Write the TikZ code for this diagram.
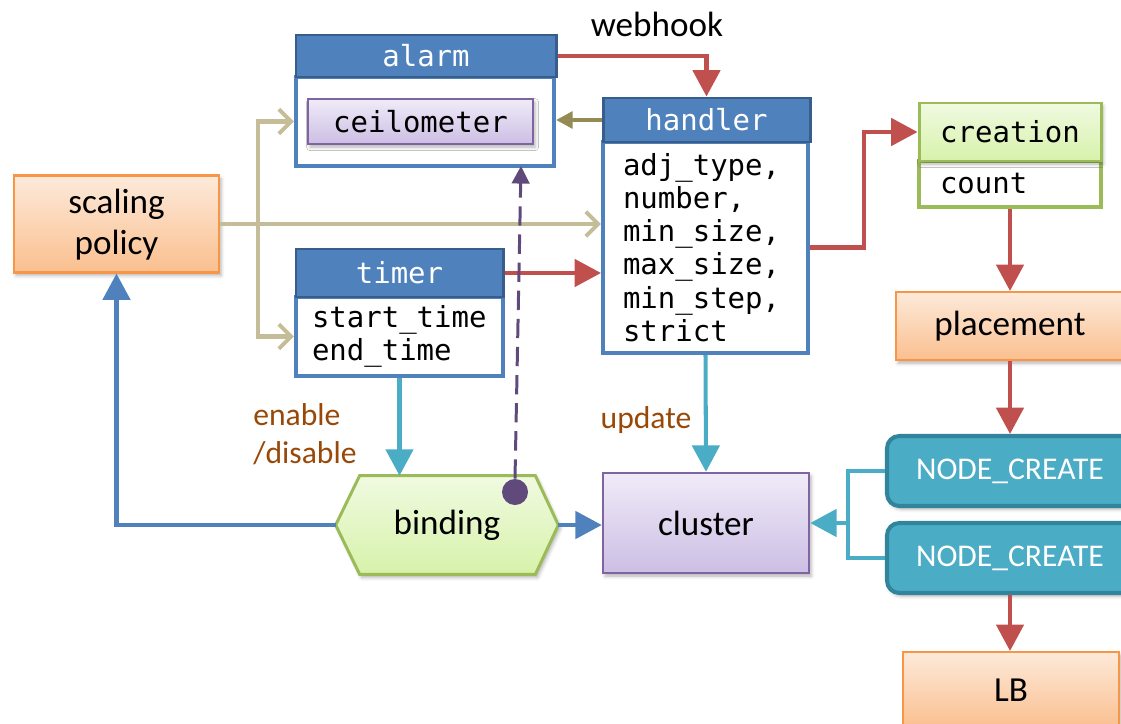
\documentclass[tikz,border=0pt]{standalone}
\usepackage{fontspec}
\setmainfont{Carlito}
\newfontfamily\monof{DejaVu Sans Mono}
\usetikzlibrary{arrows.meta,shadows.blur,calc}
\definecolor{hdrblue}{RGB}{79,129,189}
\definecolor{hdrdark}{RGB}{56,93,138}
\definecolor{redc}{RGB}{192,80,77}
\definecolor{beige}{RGB}{196,189,151}
\definecolor{olive}{RGB}{148,138,84}
\definecolor{tealc}{RGB}{75,172,198}
\definecolor{tealdark}{RGB}{49,132,155}
\definecolor{orangeb}{RGB}{247,150,70}
\definecolor{orangetop}{RGB}{253,234,218}
\definecolor{orangebot}{RGB}{250,191,143}
\definecolor{greenb}{RGB}{155,187,89}
\definecolor{greentop}{RGB}{240,250,225}
\definecolor{greenbot}{RGB}{215,242,170}
\definecolor{purpb}{RGB}{128,100,162}
\definecolor{purptop}{RGB}{240,235,248}
\definecolor{purpbot}{RGB}{204,190,228}
\definecolor{purpdark}{RGB}{96,74,123}
\definecolor{brownt}{RGB}{152,72,7}
\newcommand\pxu{0.02cm}
\tikzset{
  shad/.style={blur shadow={shadow xshift=1.2pt, shadow yshift=-1.8pt, shadow blur radius=2pt, shadow opacity=30}},
  monofont/.style={font=\monof\fontsize{16.5pt}{18.9pt}\selectfont},
  sansbig/.style={font=\fontsize{20pt}{23.3pt}\selectfont},
  hdr/.style={draw=hdrdark, fill=hdrblue, line width=1.7pt, text=white, monofont, inner sep=0pt},
  bodybox/.style={draw=hdrblue, fill=white, line width=2.3pt, monofont, inner sep=0pt, align=left},
  orangebox/.style={draw=orangeb, line width=1.2pt, top color=orangetop, bottom color=orangebot, sansbig, inner sep=0pt, shad},
  greenbox/.style={draw=greenb, line width=1.7pt, top color=greentop, bottom color=greenbot, monofont, inner sep=0pt, shad},
  countbox/.style={draw=greenb, line width=2.3pt, fill=white, monofont, inner sep=0pt, align=left},
  purpbox/.style={draw=purpb, line width=1.4pt, top color=purptop, bottom color=purpbot, sansbig, inner sep=0pt, shad},
  ceilbox/.style={draw=purpb, line width=1.4pt, top color=purptop, bottom color=purpbot, monofont, inner sep=0pt, shad},
  ncbox/.style={draw=tealdark, line width=2.3pt, fill=tealc, rounded corners=7pt, text=white, font=\fontsize{18pt}{21pt}\selectfont, inner sep=0pt, shad},
  greenhex/.style={draw=greenb, line width=1.7pt, top color=greentop, bottom color=greenbot, shad},
  brownlbl/.style={text=brownt, font=\fontsize{18pt}{21.5pt}\selectfont, inner sep=0pt},
  redar/.style={draw=redc, line width=2.3pt, -{Triangle[length=15pt,width=15.5pt]}},
  tealar/.style={draw=tealc, line width=2.3pt, -{Triangle[length=15pt,width=15.5pt]}},
  tealline/.style={draw=tealc, line width=2.3pt},
  bluear/.style={draw=hdrblue, line width=2.3pt, -{Triangle[length=15pt,width=15.5pt]}},
  beigear/.style={draw=beige, line width=2.3pt, -{Straight Barb[length=7pt,width=14pt]}},
  olivear/.style={draw=olive, line width=2.3pt, -{Triangle[length=9.5pt,width=9.5pt]}},
  purpdash/.style={draw=purpdark, line width=1.7pt, dash pattern=on 11pt off 5pt, -{Triangle[length=10pt,width=10pt]}}
}
\begin{document}
\begin{tikzpicture}[x=0.02cm,y=-0.02cm]
\useasboundingbox (0,0) rectangle (1121,723);
\clip (0,0) rectangle (1121,723);

% nodes
\node[orangebox, minimum width=205*\pxu, minimum height=97*\pxu, align=center, font=\fontsize{20pt}{23.5pt}\selectfont] (policy) at (116.5,224) {\rule{0pt}{15pt}scaling\\policy};

\node[bodybox, minimum width=258*\pxu, minimum height=89*\pxu] (alarmB) at (425,121.5) {};
\node[hdr, minimum width=260*\pxu, minimum height=42*\pxu] (alarmH) at (426,56) {alarm};
\node[ceilbox, minimum width=225*\pxu, minimum height=45*\pxu] (ceil) at (420.5,121.5) {ceilometer};

\node[bodybox, minimum width=205*\pxu, minimum height=211*\pxu, text width=165*\pxu] (handlerB) at (705.5,247.5) {adj\_type,\\number,\\min\_size,\\max\_size,\\min\_step,\\strict};
\node[hdr, minimum width=207*\pxu, minimum height=44*\pxu] (handlerH) at (706.5,120) {handler};

\node[bodybox, minimum width=207*\pxu, minimum height=79*\pxu, text width=175*\pxu] (timerB) at (399.5,336.5) {start\_time\\end\_time};
\node[hdr, minimum width=207*\pxu, minimum height=48*\pxu] (timerH) at (399.5,273) {timer};

\node[countbox, minimum width=182*\pxu, minimum height=46*\pxu, text width=140*\pxu] (count) at (1010,184) {count};
\node[greenbox, minimum width=182*\pxu, minimum height=58*\pxu] (creation) at (1010,132) {creation};

\node[orangebox, minimum width=228*\pxu, minimum height=68*\pxu] (placement) at (1010,326) {placement};
\node[ncbox, minimum width=246*\pxu, minimum height=70*\pxu] (nc1) at (1010,471) {NODE\_CREATE};
\node[ncbox, minimum width=246*\pxu, minimum height=70*\pxu] (nc2) at (1010,558) {NODE\_CREATE};
\node[orangebox, minimum width=216*\pxu, minimum height=76*\pxu] (lb) at (1011,690) {LB};

\node[purpbox, minimum width=206*\pxu, minimum height=100*\pxu] (cluster) at (706,523) {cluster};

\node[minimum width=222*\pxu, minimum height=98*\pxu, inner sep=0pt] (binding) at (447,525) {};
\path[greenhex] (binding.west) -- ($(binding.north west)+(24,0)$) -- ($(binding.north east)+(-23,0)$) -- (binding.east) -- ($(binding.south east)+(-23,0)$) -- ($(binding.south west)+(24,0)$) -- cycle;
\node[sansbig] (bindtext) at (binding.center) {binding};
\node[circle, fill=purpdark, minimum size=26*\pxu, inner sep=0pt] (dot) at (515,492) {};

% labels
\node[sansbig, inner sep=0pt] (webhook) at (657,24) {webhook};
\node[brownlbl, anchor=west, align=left] (enlbl) at (253,434) {enable\\/disable};
\node[brownlbl] (updlbl) at (646,420) {update};

% connectors
\coordinate (bj) at (258,224);
\draw[beigear] (policy.east) -- (policy.east -| handlerB.west);
\draw[beigear] (bj) |- (alarmB.west);
\draw[beigear] (bj) |- (timerB.west);

\draw[redar] (alarmH.east) -| (handlerH.north);
\draw[olivear] (handlerH.west) -- (handlerH.west -| alarmB.east);
\draw[redar] (timerH.east) -- (timerH.east -| handlerB.west);
\draw[redar] (handlerB.east) -- ++(54,0) |- (creation.west);
\draw[redar] (count.south) -- (placement.north);
\draw[redar] (placement.south) -- (nc1.north);
\draw[redar] (nc2.south) -- (nc2.south |- lb.north);

\coordinate (tj) at (848,523);
\draw[tealline] (nc1.west) -| (tj) |- (nc2.west);
\draw[tealar] (tj) -- (cluster.east);
\draw[tealar] (timerB.south) -- (timerB.south |- binding.north);
\draw[tealar] (handlerB.south) -- (cluster.north);

\draw[bluear] (binding.east) -- (binding.east -| cluster.west);
\draw[bluear] (binding.west) -| (policy.south);

\coordinate (ceilin) at (521,166);
\draw[purpdash] (dot.north) -- (ceilin);
\end{tikzpicture}
\end{document}
